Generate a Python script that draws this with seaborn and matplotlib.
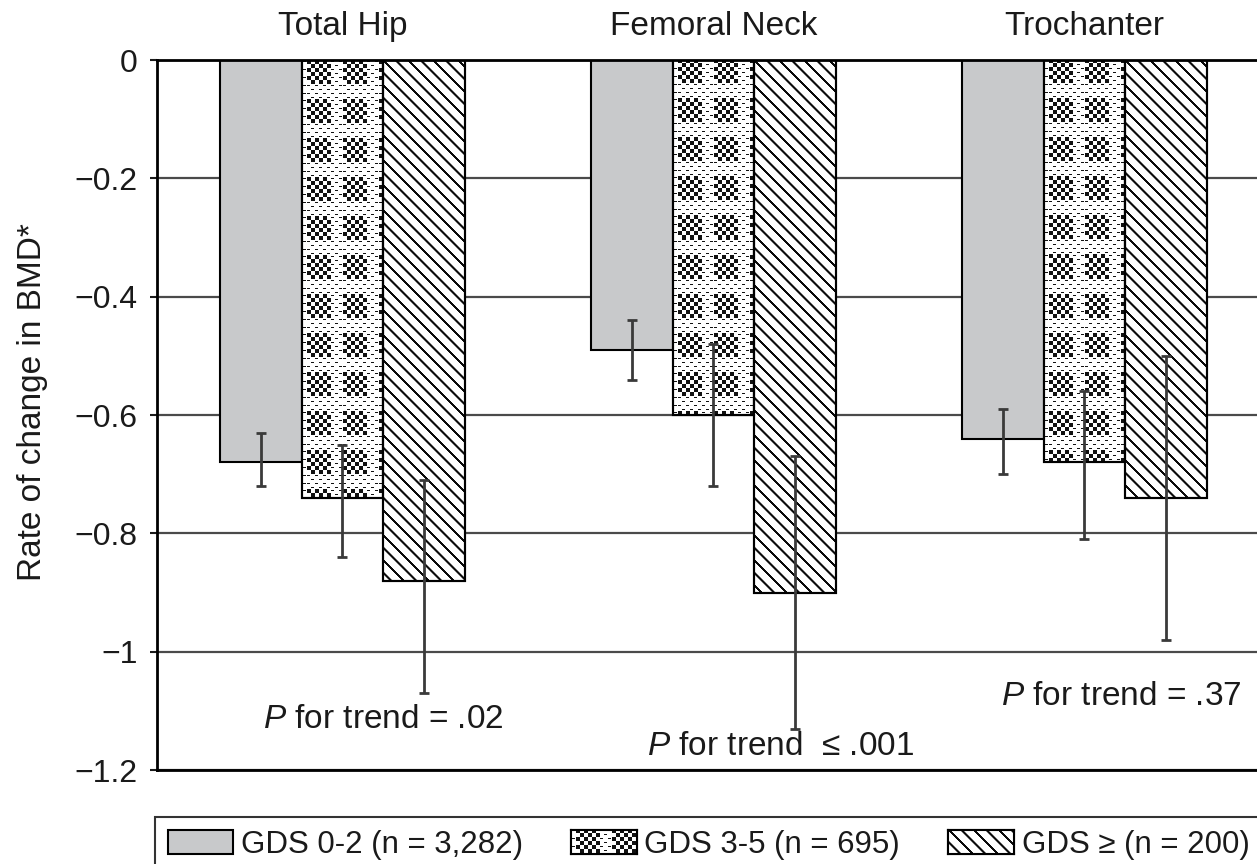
import matplotlib
matplotlib.use("Agg")
import matplotlib.pyplot as plt
import seaborn as sns
import pandas as pd
import numpy as np
from matplotlib.patches import Patch, Rectangle

# ---------------- data ----------------
sites = ["Total Hip", "Femoral Neck", "Trochanter"]
groups = ["GDS 0-2 (n = 3,282)", "GDS 3-5 (n = 695)", "GDS \u2265 (n = 200)"]

gds_0_2 = [-0.68, -0.49, -0.64]
gds_3_5 = [-0.74, -0.60, -0.68]
gds_6_up = [-0.88, -0.90, -0.74]

# error bar ends (upper = less negative, lower = more negative)
upper_0_2 = [-0.63, -0.44, -0.59]
lower_0_2 = [-0.72, -0.54, -0.70]
upper_3_5 = [-0.65, -0.48, -0.56]
lower_3_5 = [-0.84, -0.72, -0.81]
upper_6_up = [-0.71, -0.67, -0.50]
lower_6_up = [-1.07, -1.13, -0.98]

yticks = [0, -0.2, -0.4, -0.6, -0.8, -1.0, -1.2]
ytick_labels = ["0", "\u22120.2", "\u22120.4", "\u22120.6", "\u22120.8", "\u22121", "\u22121.2"]

p_texts = ["$\\mathit{P}$ for trend = .02",
           "$\\mathit{P}$ for trend  \u2264 .001",
           "$\\mathit{P}$ for trend = .37"]
p_x = [0.11, 1.18, 2.10]
p_y = [-1.114, -1.161, -1.075]

# ---------------- style ----------------
DPI = 100
W_PX, H_PX = 1257, 864

sns.set_theme(style="white")
plt.rcParams["font.family"] = ["Liberation Sans", "DejaVu Sans"]
plt.rcParams["mathtext.fontset"] = "custom"
plt.rcParams["mathtext.it"] = "Liberation Sans:italic"
plt.rcParams["mathtext.rm"] = "Liberation Sans"

face_colors = ["#c8c9cb", "white", "white"]


def dot_texture(h, w):
    """Halftone-like checker cluster texture (RGBA)."""
    rr, cc = np.mgrid[0:h, 0:w]
    ti = rr % 39
    tj = (cc + 31) % 36
    ci = ti // 4
    cj = tj // 4
    checker = (ci + cj) % 2 == 0
    cluster = (ci < 6) & (cj < 6)
    ink = (cluster & checker) | (~cluster & checker & (ti % 4 == 1) & (tj % 4 < 3))
    img = np.zeros((h, w, 4))
    img[..., :3] = 0.07
    img[..., 3] = ink.astype(float)
    return img


def diag_texture(h, w):
    """Back-slash diagonal lines (top-left to bottom-right), RGBA."""
    rr, cc = np.mgrid[0:h, 0:w].astype(float)
    period = 12.5
    u = np.mod(cc - rr, period)
    dist = np.minimum(u, period - u)
    alpha = np.clip(2.0 - dist, 0, 1)
    img = np.zeros((h, w, 4))
    img[..., :3] = 0.05
    img[..., 3] = alpha
    return img


textures = [None, dot_texture, diag_texture]

df = pd.DataFrame({
    "site": sites * 3,
    "group": np.repeat(groups, 3),
    "value": gds_0_2 + gds_3_5 + gds_6_up,
})

fig = plt.figure(figsize=(W_PX / DPI, H_PX / DPI), dpi=DPI)
ax = fig.add_axes([157 / W_PX, (H_PX - 770) / H_PX, 1113 / W_PX, 710 / H_PX])

sns.barplot(data=df, x="site", y="value", hue="group", order=sites,
            hue_order=groups, palette=face_colors, saturation=1,
            width=0.66, edgecolor="black", linewidth=1.5,
            errorbar=None, legend=False, ax=ax, zorder=2)

ax.set_xlim(-0.5, 2.5)
ax.set_ylim(-1.2, 0)

uppers = [upper_0_2, upper_3_5, upper_6_up]
lowers = [lower_0_2, lower_3_5, lower_6_up]
for cont, fc, tex, up, lo in zip(ax.containers, face_colors, textures, uppers, lowers):
    xs = []
    for p in cont:
        p.set_facecolor(fc)
        p.set_edgecolor("black")
        x0 = p.get_x()
        x1 = x0 + p.get_width()
        yb = min(p.get_y(), p.get_y() + p.get_height())
        yt = max(p.get_y(), p.get_y() + p.get_height())
        xs.append((x0 + x1) / 2)
        if tex is not None:
            (dx0, dyb), (dx1, dyt) = ax.transData.transform([(x0, yb), (x1, yt)])
            wpx = max(int(round(dx1 - dx0)), 1)
            hpx = max(int(round(dyt - dyb)), 1)
            im = ax.imshow(tex(hpx, wpx), extent=(x0, x1, yb, yt),
                           origin="upper", aspect="auto",
                           interpolation="nearest", zorder=2.2)
            im.set_clip_path(p)
            ax.add_patch(Rectangle((x0, yb), x1 - x0, yt - yb, fill=False,
                                   edgecolor="black", linewidth=1.5,
                                   zorder=2.4))
    up = np.array(up)
    lo = np.array(lo)
    ax.errorbar(xs, (up + lo) / 2, yerr=(up - lo) / 2, fmt="none",
                ecolor="#3a3a3a", elinewidth=2, capsize=3.6,
                capthick=2, zorder=4)

ax.set_xlim(-0.5, 2.5)
ax.set_ylim(-1.2, 0)

for t, x, y in zip(p_texts, p_x, p_y):
    ax.text(x, y, t, ha="center", va="center", fontsize=24,
            color="#1a1a1a", zorder=5)

ax.set_yticks(yticks, labels=ytick_labels)
ax.xaxis.tick_top()
ax.tick_params(axis="x", length=0, pad=13, labelsize=24, top=False,
               labeltop=True, labelbottom=False, colors="#1a1a1a")
ax.tick_params(axis="y", direction="out", length=5, width=1.5,
               pad=9, labelsize=23, left=True, colors="#1a1a1a")
ax.set_xlabel("")
ax.set_ylabel("Rate of change in BMD*", fontsize=24, color="#1a1a1a")
ax.yaxis.set_label_coords(-0.098, 0.518)

ax.set_axisbelow(True)
ax.yaxis.grid(True, color="#4a4a4a", linewidth=1.6, zorder=0)
ax.xaxis.grid(False)
for s in ["left", "top", "bottom"]:
    ax.spines[s].set_color("black")
    ax.spines[s].set_linewidth(2)
    ax.spines[s].set_visible(True)
ax.spines["right"].set_visible(False)

handles = [Patch(facecolor=fc, edgecolor="black", linewidth=1.5, label=g)
           for fc, g in zip(face_colors, groups)]
leg = fig.legend(handles=handles, loc="upper left",
                 bbox_to_anchor=(155 / W_PX, 1 - 817 / H_PX, (1262 - 155) / W_PX, 0),
                 mode="expand", ncol=3, frameon=True, fancybox=False,
                 edgecolor="black", fontsize=22.5, handlelength=2.1,
                 handleheight=0.85, handletextpad=0.25, borderpad=0.4,
                 borderaxespad=0)
leg.get_frame().set_linewidth(1.5)
for txt in leg.get_texts():
    txt.set_color("#1a1a1a")

# textures for the legend keys
fig.canvas.draw()
for hnd, tex in zip(leg.legend_handles, textures):
    if tex is not None:
        bb = hnd.get_window_extent()
        kax = fig.add_axes([bb.x0 / W_PX, bb.y0 / H_PX, bb.width / W_PX, bb.height / H_PX],
                           zorder=10)
        kax.set_facecolor("white")
        kax.imshow(tex(max(int(round(bb.height)), 1), max(int(round(bb.width)), 1)),
                   aspect="auto", interpolation="nearest")
        kax.set_xticks([])
        kax.set_yticks([])
        for sp in kax.spines.values():
            sp.set_visible(True)
            sp.set_color("black")
            sp.set_linewidth(1.5)

fig.savefig("out.png", dpi=DPI)
